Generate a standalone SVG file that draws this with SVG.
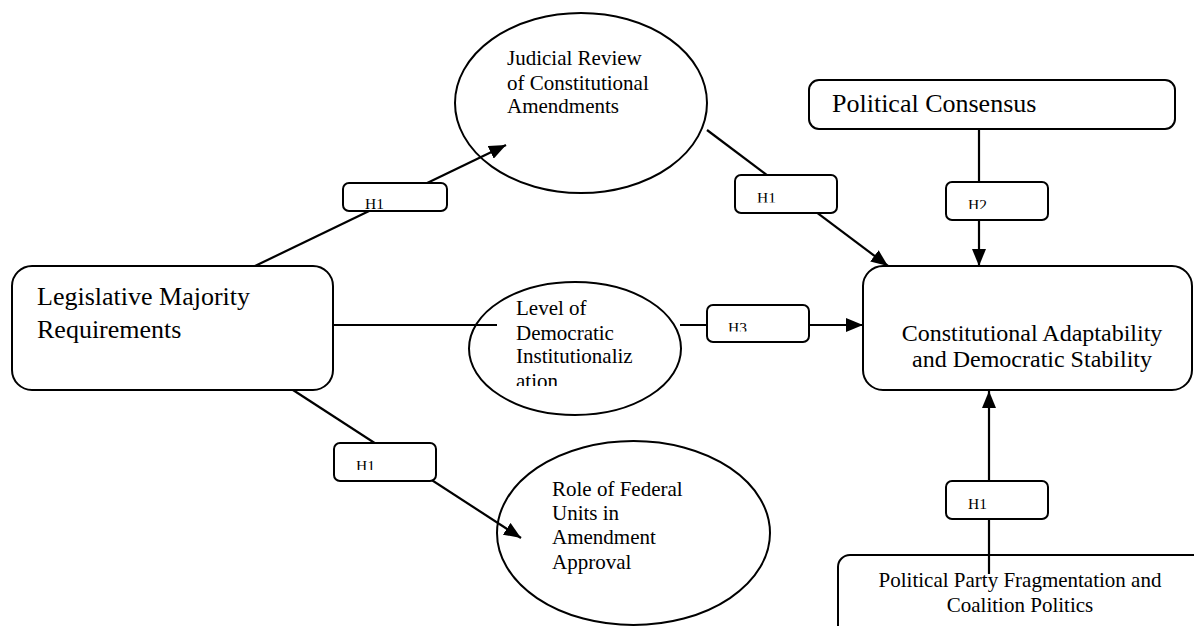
<svg xmlns="http://www.w3.org/2000/svg" width="1194" height="626" viewBox="0 0 1194 626">
<style>
.box{fill:#fff;stroke:#000;stroke-width:2}
.ell{fill:#fff;stroke:#000;stroke-width:2}
.lbl{fill:#fff;stroke:#000;stroke-width:2}
.con{fill:none;stroke:#000;stroke-width:2.2}
.arr{marker-end:url(#ah)}
text{font-family:"Liberation Serif","Times New Roman",serif;fill:#000}
.big{font-size:26px}
.mid{font-size:24px}
.sm{font-size:21px}
.h{font-size:15.5px}
</style>
<defs>
<marker id="ah" markerUnits="userSpaceOnUse" markerWidth="18" markerHeight="14" viewBox="0 0 18 14" refX="17" refY="7" orient="auto">
<path d="M0,0 L17,7 L0,14 Z" fill="#000"/>
</marker>
<clipPath id="c2"><rect x="735" y="175" width="102" height="27.5"/></clipPath>
<clipPath id="c3"><rect x="946" y="182" width="102" height="27"/></clipPath>
<clipPath id="c4"><rect x="707" y="305" width="102" height="26.5"/></clipPath>
<clipPath id="c5"><rect x="334" y="443" width="102" height="27"/></clipPath>
<clipPath id="cd"><rect x="470" y="282" width="210" height="104"/></clipPath>
</defs>
<rect width="1194" height="626" fill="#fff"/>

<g id="legislative">
<rect class="box" x="12" y="266" width="321" height="124" rx="20"/>
<text class="big" x="37" y="305">Legislative Majority</text>
<text class="big" x="37" y="338">Requirements</text>
</g>

<g id="judicial">
<ellipse class="ell" cx="581" cy="103" rx="126" ry="90"/>
<text class="sm" x="507" y="65">Judicial Review</text>
<text class="sm" x="507" y="90">of Constitutional</text>
<text class="sm" x="507" y="113">Amendments</text>
</g>

<g id="democratic">
<ellipse class="ell" cx="575" cy="348.5" rx="106" ry="66.5"/>
<g clip-path="url(#cd)">
<text class="sm" x="516" y="315">Level of</text>
<text class="sm" x="516" y="340">Democratic</text>
<text class="sm" x="516" y="363">Institutionaliz</text>
<text class="sm" x="516" y="388">ation</text>
</g>
</g>

<g id="federal">
<ellipse class="ell" cx="633.5" cy="533" rx="136.5" ry="92"/>
<text class="sm" x="552" y="496">Role of Federal</text>
<text class="sm" x="552" y="520">Units in</text>
<text class="sm" x="552" y="544">Amendment</text>
<text class="sm" x="552" y="569">Approval</text>
</g>

<g id="consensus">
<rect class="box" x="809" y="80" width="366" height="49" rx="10"/>
<text class="big" x="832" y="112">Political Consensus</text>
</g>

<g id="stability">
<rect class="box" x="863" y="266" width="329" height="124" rx="20"/>
<text class="mid" x="1032" y="341" text-anchor="middle">Constitutional Adaptability</text>
<text class="mid" x="1032" y="367" text-anchor="middle">and Democratic Stability</text>
</g>

<g id="fragmentation">
<rect class="box" x="838" y="555" width="400" height="120" rx="12"/>
<text class="sm" x="1020" y="587" text-anchor="middle">Political Party Fragmentation and</text>
<text class="sm" x="1020" y="612" text-anchor="middle">Coalition Politics</text>
</g>

<g id="connectors">
<line class="con arr" x1="255" y1="266" x2="506" y2="145"/>
<line class="con arr" x1="707" y1="130" x2="888" y2="266"/>
<line class="con arr" x1="979" y1="129" x2="979" y2="266"/>
<line class="con" x1="333" y1="325" x2="497" y2="325"/>
<line class="con arr" x1="680" y1="325" x2="863" y2="325"/>
<line class="con arr" x1="293" y1="390" x2="521" y2="538"/>
<line class="con arr" x1="989" y1="574" x2="989" y2="391"/>
</g>

<g id="labels">
<g id="lbl1"><rect class="lbl" x="343" y="183" width="104" height="28" rx="6"/><text class="h" x="365" y="209">H1</text></g>
<g id="lbl2"><rect class="lbl" x="735" y="175" width="102" height="38" rx="6"/><text class="h" x="757" y="203" clip-path="url(#c2)">H1</text></g>
<g id="lbl3"><rect class="lbl" x="946" y="182" width="102" height="38" rx="6"/><text class="h" x="968" y="210" clip-path="url(#c3)">H2</text></g>
<g id="lbl4"><rect class="lbl" x="707" y="305" width="102" height="37" rx="6"/><text class="h" x="728" y="333" clip-path="url(#c4)">H3</text></g>
<g id="lbl5"><rect class="lbl" x="334" y="443" width="102" height="38" rx="6"/><text class="h" x="356" y="470.5" clip-path="url(#c5)">H1</text></g>
<g id="lbl6"><rect class="lbl" x="946" y="481" width="102" height="38" rx="6"/><text class="h" x="968" y="508.5">H1</text></g>
</g>
</svg>
